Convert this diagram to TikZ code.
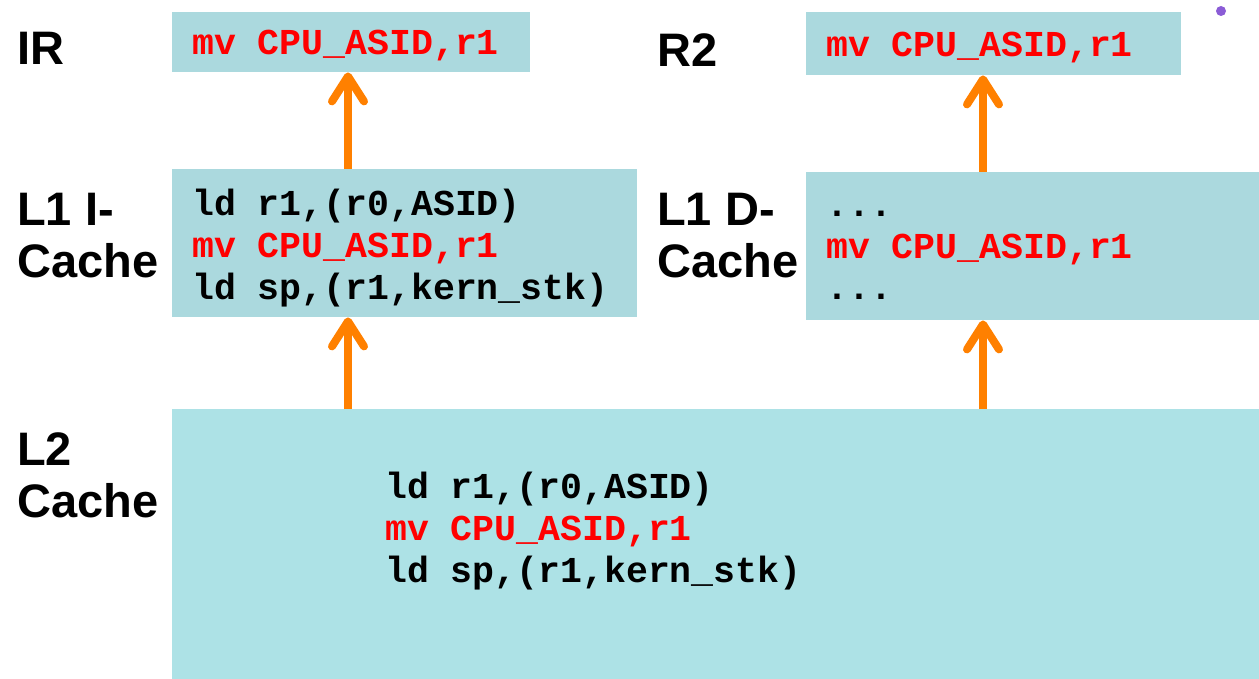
\documentclass[tikz,border=0pt]{standalone}
\usepackage{fontspec}
\setmainfont{Liberation Sans}
\setmonofont{Liberation Mono}
\usetikzlibrary{arrows.meta}
\definecolor{boxcol}{HTML}{ABD9DE}
\definecolor{ltwocol}{HTML}{ADE2E6}
\definecolor{flowcol}{HTML}{FF8000}
\definecolor{dotcol}{HTML}{8B5CD6}
\newcommand{\hot}[1]{\textcolor{red}{#1}}
\begin{document}
\begin{tikzpicture}[x=1pt,y=-1pt,
  cachebox/.style={fill=boxcol, draw=none, anchor=north west, inner sep=0pt},
  code/.style={font=\ttfamily\bfseries\fontsize{36.5}{42}\selectfont, anchor=base west, inner sep=0pt, align=left},
  level/.style={font=\bfseries\fontsize{47}{52}\selectfont, anchor=base west, inner sep=0pt, align=left},
  flow/.style={line width=8pt, flowcol, -{Straight Barb[round,length=25pt,width=32pt]}}]
  \useasboundingbox (0,0) rectangle (1259,679);

  % instruction side (multi-line nodes sit on their last baseline)
  \node (ir) at (172,12) [cachebox, minimum width=358, minimum height=60] {};
  \node (irtxt) at (192,55) [code] {\hot{mv CPU\_ASID,r1}};
  \node (irlbl) at (17,65) [level] {IR};

  \node (l1i) at (172,169) [cachebox, minimum width=465, minimum height=148] {};
  \node (l1itxt) at (192,299) [code] {ld r1,(r0,ASID)\\ \hot{mv CPU\_ASID,r1}\\ ld sp,(r1,kern\_stk)};
  \node (l1ilbl) at (17,278) [level] {L1 I-\\Cache};

  % data side
  \node (r2) at (806,12) [cachebox, minimum width=375, minimum height=63] {};
  \node (r2txt) at (826,57) [code] {\hot{mv CPU\_ASID,r1}};
  \node (r2lbl) at (657,67) [level] {R2};

  \node (l1d) at (806,172) [cachebox, minimum width=453, minimum height=148] {};
  \node (l1dtxt) at (826,300) [code] {...\\ \hot{mv CPU\_ASID,r1}\\ ...};
  \node (l1dlbl) at (657,278) [level] {L1 D-\\Cache};

  % shared L2
  \node (l2) at (172,409) [cachebox, fill=ltwocol, minimum width=1087, minimum height=270] {};
  \node (l2txt) at (385,582) [code] {ld r1,(r0,ASID)\\ \hot{mv CPU\_ASID,r1}\\ ld sp,(r1,kern\_stk)};
  \node (l2lbl) at (17,517) [level] {L2\\Cache};

  % fills moving up
  \coordinate (icol) at (348,0);
  \coordinate (dcol) at (983,0);
  \draw[flow] (l1i.north -| icol) -- (ir.south -| icol);
  \draw[flow] (l2.north -| icol) -- (l1i.south -| icol);
  \draw[flow] (l1d.north -| dcol) -- (r2.south -| dcol);
  \draw[flow] (l2.north -| dcol) -- (l1d.south -| dcol);

  \fill[dotcol] (1221,11) circle (5);
\end{tikzpicture}
\end{document}
